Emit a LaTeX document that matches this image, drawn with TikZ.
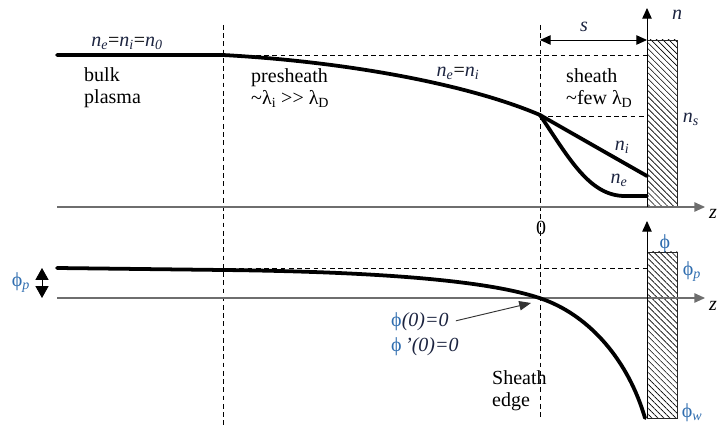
\documentclass[tikz,border=0pt]{standalone}
\usepackage{fontspec}
\setmainfont{Liberation Serif}
\usetikzlibrary{arrows.meta, positioning, patterns.meta}
\definecolor{axisGray}{HTML}{6E6E6E}
\definecolor{phiBlue}{HTML}{2F6DAF}
\definecolor{labelNavy}{HTML}{1C2440}
\tikzset{
  lbl/.style={font=\fontsize{17}{19}\selectfont, inner sep=0pt},
  note/.style={lbl, align=left, anchor=west},
  axis/.style={draw=axisGray, line width=1pt, -{Triangle[length=9pt,width=8pt]}},
  yaxis/.style={draw=black, line width=0.8pt, -{Triangle[length=9pt,width=8pt]}},
  guide/.style={line width=0.7pt, dash pattern=on 4pt off 3pt},
  profile/.style={line width=3.2pt, line cap=round, line join=round},
  wall/.style={draw=black!85, line width=0.8pt,
               pattern={Lines[angle=-45,distance=3.6pt,line width=0.55pt]}},
  dim/.style={line width=0.8pt, {Triangle[length=9pt,width=8pt]}-{Triangle[length=9pt,width=8pt]}},
  marker/.style={line width=0.8pt, {Triangle[length=10pt,width=11pt]}-{Triangle[length=10pt,width=11pt]}},
}
\newcommand{\phiv}{\textcolor{phiBlue}{ϕ}}
\newcommand{\nsub}[1]{\textcolor{labelNavy}{\itshape n\textsubscript{#1}}}

\begin{document}
\begin{tikzpicture}[x=0.85pt, y=-0.85pt]
\useasboundingbox (0,0) rectangle (720,425);

% walls
\path[wall] (647,40) rectangle (677,207);
\path[wall] (647,252) rectangle (677,418);

% region boundaries and levels
\draw[guide] (223,25) -- (223,425);
\draw[guide] (540,25) -- (540,420);
\draw[guide] (223,55) -- (647,55);
\draw[guide] (540,116) -- (647,116);
\draw[guide] (190,268) -- (647,268);

% axes
\coordinate (nOrig) at (647,207);
\coordinate (phiOrig) at (647,418);
\draw[axis] (57,207) -- (705,207);
\draw[axis] (57,298) -- (705,298);
\draw[yaxis] (nOrig) -- (647,8);
\draw[yaxis] (phiOrig) -- (647,221);

% density profile
\coordinate (edgeN) at (540,115);
\draw[profile] (57,55) -- (223,55) .. controls (350,62) and (470,85) .. (edgeN);
\draw[profile] (edgeN) .. controls (575,135) and (610,155) .. (647,176);
\draw[profile] (edgeN) .. controls (570,160) and (590,196) .. (625,196) -- (647,196);

% potential profile
\coordinate (edgePhi) at (545,300);
\draw[profile] (57,268) -- (223,270) .. controls (400,272) and (500,283) .. (edgePhi)
  .. controls (590,317) and (628,360) .. (645,418);

% sheath width
\coordinate (sL) at (540,40);
\coordinate (sR) at (647,40);
\draw[dim] (sL) -- (sR) node[lbl, midway, above=7pt, xshift=-8pt] (sLbl) {\textcolor{labelNavy}{\textit{s}}};

% phi_p marker on the left
\coordinate (phiTop) at (42,268);
\coordinate (phiBot) at (42,298);
\draw[marker] (phiTop) -- (phiBot);
\node[lbl] (phiPL) at (21,283) {\phiv\textcolor{phiBlue}{\textsubscript{\textit{p}}}};

% labels, top panel
\node[lbl] (bulkEq) at (127,43) {\nsub{e}=\nsub{i}=\nsub{0}};
\node[note] (bulk) at (84,88) {bulk\\plasma};
\node[note] (pre) at (251,88) {presheath\\\textasciitilde λ\textsubscript{i} >{}> λ\textsubscript{D}};
\node[lbl] (preEq) at (458,73) {\nsub{e}=\nsub{i}};
\node[note] (sheath) at (566,88) {sheath\\\textasciitilde few λ\textsubscript{D}};
\node[lbl] (niLbl) at (622,147) {\nsub{i}};
\node[lbl] (neLbl) at (619,180) {\nsub{e}};
\node[lbl] (nAx) at (677,15) {\textcolor{labelNavy}{\textit{n}}};
\node[lbl] (nsLbl) at (691,119) {\nsub{s}};
\node[lbl] (zTop) at (713,214) {\textit{z}};
\node[lbl] (zero) at (541,228) {0};

% labels, bottom panel
\node[lbl] (phiAx) at (665,244) {\phiv};
\node[lbl] (phiPR) at (692,272) {\phiv\textcolor{phiBlue}{\textsubscript{\textit{p}}}};
\node[lbl] (phiW) at (692,413) {\phiv\textcolor{phiBlue}{\textsubscript{\textit{w}}}};
\node[lbl] (zBot) at (713,306) {\textit{z}};
\node[note] (bc1) at (391,322) {\phiv\textcolor{labelNavy}{\textit{(0)=0}}};
\node[note] (bc2) at (391,347) {\phiv\,\textcolor{labelNavy}{\textit{’(0)=0}}};
\node[note] (sEdge) at (492,391) {Sheath\\edge};
\coordinate (bcTip) at (531,303);
\draw[line width=0.8pt, draw=black!80, -{Triangle[length=10pt,width=8pt]}] ([xshift=6pt, yshift=1pt]bc1.east) -- (bcTip);

\end{tikzpicture}
\end{document}
